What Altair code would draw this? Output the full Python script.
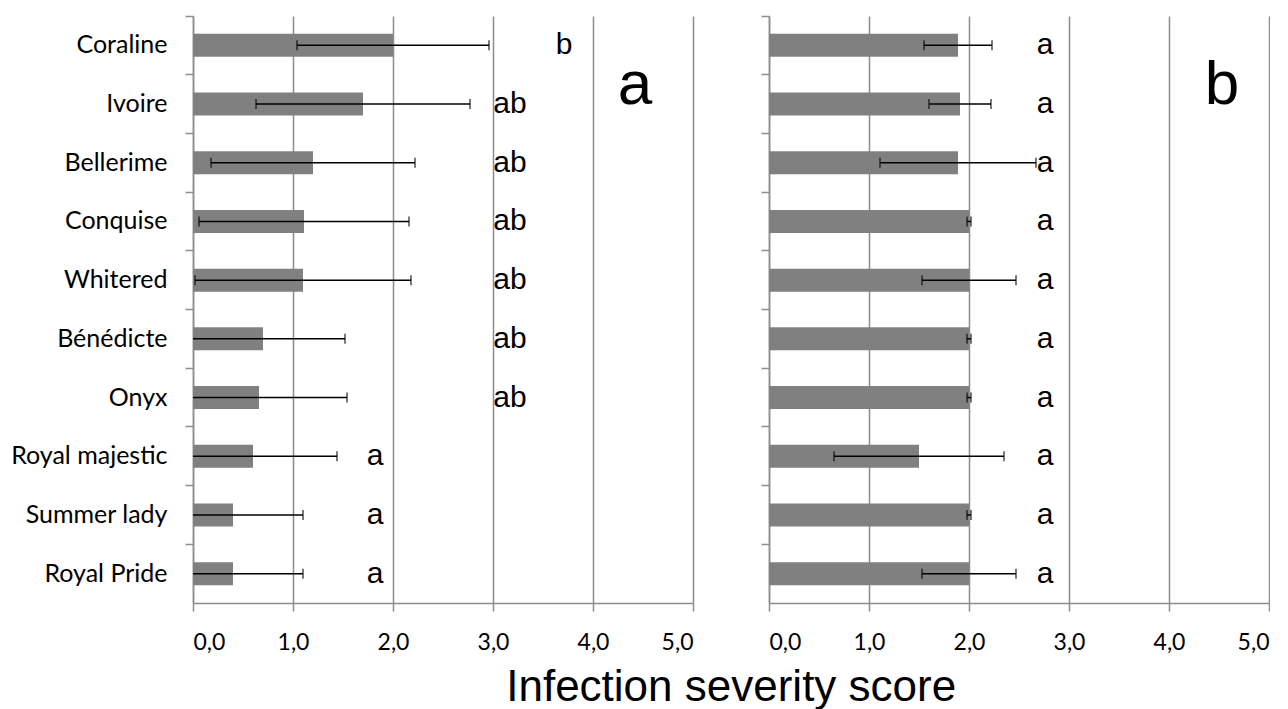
import altair as alt
import pandas as pd

categories = ["Coraline", "Ivoire", "Bellerime", "Conquise", "Whitered",
              "Bénédicte", "Onyx", "Royal majestic", "Summer lady", "Royal Pride"]

left_mean = [2.00, 1.70, 1.20, 1.11, 1.10, 0.70, 0.66, 0.60, 0.40, 0.40]
left_sd = [0.96, 1.07, 1.02, 1.05, 1.08, 0.82, 0.88, 0.84, 0.70, 0.70]
left_letters = ["b", "ab", "ab", "ab", "ab", "ab", "ab", "a", "a", "a"]
left_letter_x = [3.71, 3.17, 3.17, 3.17, 3.17, 3.17, 3.17, 1.82, 1.82, 1.82]

right_mean = [1.89, 1.91, 1.89, 2.00, 2.00, 2.00, 2.00, 1.50, 2.00, 2.00]
right_sd = [0.34, 0.31, 0.78, 0.02, 0.47, 0.02, 0.02, 0.85, 0.02, 0.47]
right_letters = ["a"] * 10
right_letter_x = [2.76] * 10

panel_labels = ["a", "b"]
panel_label_x = [4.42, 4.53]
panel_label_row = ["Ivoire", "Ivoire"]

tick_values = [0, 1, 2, 3, 4, 5]
x_title = "Infection severity score"

GRID = "#8c8c8c"


def panel(mean, sd, letters, letter_x, plabel, plabel_x, plabel_row, show_labels):
    df = pd.DataFrame({"cultivar": categories, "mean": mean, "sd": sd,
                       "letter": letters, "lx": letter_x})
    df["lo"] = (df["mean"] - df["sd"]).clip(lower=0)
    df["hi"] = df["mean"] + df["sd"]
    df["lo_visible"] = (df["mean"] - df["sd"]) >= 0

    yenc = alt.Y("cultivar:N", sort=categories, title=None,
                 scale=alt.Scale(paddingInner=0, paddingOuter=0),
                 axis=alt.Axis(bandPosition=0, grid=False, labels=show_labels,
                               labelFont="Lato", labelFontSize=25, labelColor="black",
                               labelPadding=18, tickSize=8, tickColor=GRID, tickWidth=1.5,
                               domainColor=GRID, domainWidth=1.5))
    xscale = alt.Scale(domain=[0, 5], nice=False, zero=True)
    xaxis = alt.Axis(values=tick_values, title=None, grid=True, gridColor=GRID, gridWidth=1.5,
                     labelExpr="replace(format(datum.value, '.1f'), '.', ',')",
                     labelFont="Lato", labelFontSize=23, labelColor="black", labelPadding=20,
                     tickSize=8, tickColor=GRID, tickWidth=1.5,
                     domainColor=GRID, domainWidth=1.5)

    base = alt.Chart(df)
    bars = base.mark_bar(size=23, color="#808080").encode(
        x=alt.X("mean:Q", scale=xscale, axis=xaxis), y=yenc)
    err = base.mark_rule(color="black", strokeWidth=1.5).encode(
        x="lo:Q", x2="hi:Q", y=yenc)
    cap_hi = base.mark_tick(color="black", size=10, thickness=1.5).encode(x="hi:Q", y=yenc)
    cap_lo = base.transform_filter("datum.lo_visible").mark_tick(
        color="black", size=10, thickness=1.5).encode(x="lo:Q", y=yenc)
    txt = base.mark_text(font="Liberation Sans", fontSize=30, align="center",
                         baseline="middle", color="black").encode(
        x="lx:Q", y=yenc, text="letter:N")
    big_df = pd.DataFrame({"label": [plabel], "x": [plabel_x], "cultivar": [plabel_row]})
    big = alt.Chart(big_df).mark_text(font="Liberation Sans", fontSize=62, align="center",
                                      baseline="alphabetic", color="black").encode(
        x="x:Q", y=yenc, text="label:N")
    return alt.layer(bars, err, cap_lo, cap_hi, txt, big).properties(width=500, height=587)


left = panel(left_mean, left_sd, left_letters, left_letter_x,
             panel_labels[0], panel_label_x[0], panel_label_row[0], True)
right = panel(right_mean, right_sd, right_letters, right_letter_x,
              panel_labels[1], panel_label_x[1], panel_label_row[1], False)

chart = alt.hconcat(left, right, spacing=76, bounds="flush").properties(
    title=alt.TitleParams(x_title, orient="bottom", anchor="middle", font="Liberation Sans",
                          fontSize=44, fontWeight="normal", color="black", offset=12, dx=91),
    padding={"left": 2, "top": 7, "right": 0, "bottom": 0},
).configure_view(stroke=None)

chart.save("out.html", embed_options={"renderer": "svg", "actions": False})
